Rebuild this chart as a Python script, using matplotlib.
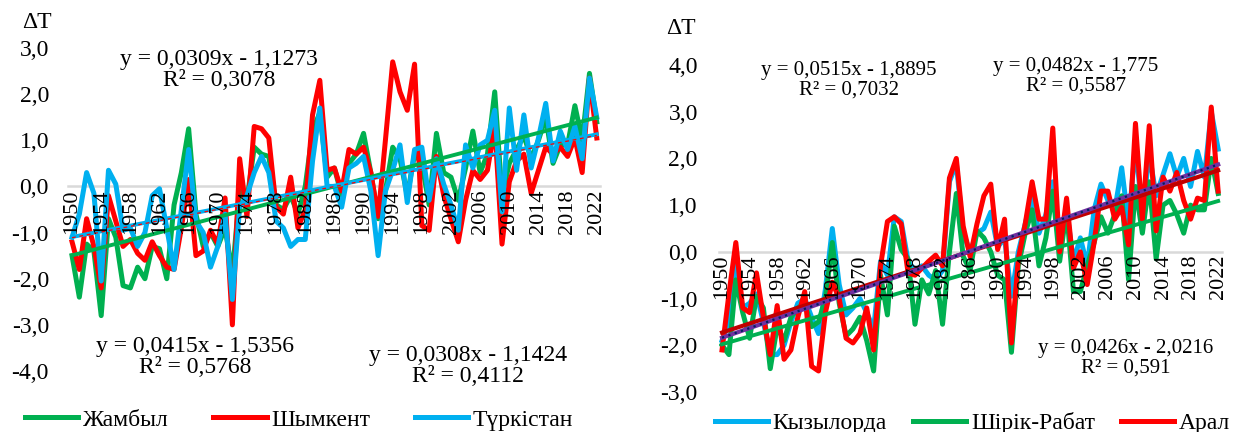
# Аномалии температуры (ΔT) по станциям, 1950-2022
import numpy as np
from matplotlib import pyplot as plt

plt.rcParams['font.family'] = ['Liberation Serif', 'DejaVu Serif']

years = np.arange(1950, 2023)
tick_years = np.arange(1950, 2023, 4)

# левый график
zhambyl = [-1.5, -2.4, -1.25, -1.4, -2.8, -0.7, -1.1, -2.15, -2.2, -1.75,
           -2.0, -1.3, -1.35, -2.0, -0.4, 0.3, 1.25, -0.6, -1.3, -1.0,
           -1.3, -0.9, -1.9, -0.1, -0.3, 0.85, 0.7, 0.65, -0.4, -0.5,
           -0.2, -0.6, 0.0, 1.2, 1.6, 0.2, 0.4, -0.2, 0.5, 0.7,
           1.15, 0.3, -0.7, -0.1, 0.85, 0.6, -0.2, 0.7, 0.5, -0.4,
           1.15, 0.3, 0.2, -0.3, 0.4, 1.2, 0.3, 0.7, 2.05, -0.2,
           0.5, 0.8, 1.1, 0.6, 1.0, 1.5, 0.5, 0.9, 0.9, 1.75,
           1.0, 2.45, 1.4]
shymkent = [-1.2, -1.8, -0.7, -1.3, -2.2, -0.2, -0.75, -1.3, -1.15, -1.45,
            -1.6, -1.2, -1.5, -1.75, -1.8, -0.9, 0.15, -1.5, -1.4, -0.95,
            -1.25, -0.25, -3.0, 0.6, -0.65, 1.3, 1.25, 1.05, -0.45, -0.6,
            0.2, -0.9, -0.5, 1.55, 2.3, 0.35, 0.4, -0.1, 0.8, 0.7,
            0.85, 0.3, -0.65, 1.0, 2.7, 2.05, 1.65, 2.65, -0.85, -0.95,
            0.65, -0.2, -0.7, -1.2, -0.3, 0.35, 0.15, 0.35, 1.3, -1.25,
            0.1, 0.55, 0.7, -0.15, 0.35, 0.85, 0.7, 0.85, 0.65, 1.05,
            0.3, 2.35, 1.05]
turkistan = [-1.1, -0.6, 0.3, -0.15, -2.05, 0.35, 0.05, -0.95, -0.9, -1.3,
             -1.0, -0.2, -0.05, -0.9, -1.8, -0.5, 0.8, -0.75, -1.0, -1.75,
             -1.3, -0.6, -2.45, -0.45, -0.2, 0.3, 0.65, 0.3, -0.75, -0.9,
             -1.3, -1.15, -1.15, 0.55, 1.7, 0.0, 0.0, -0.45, 0.4, 0.5,
             0.65, -0.1, -1.5, -0.1, 0.35, 0.9, -0.35, 0.8, 0.85, -0.3,
             0.6, 0.05, -0.4, -0.95, 0.9, 0.4, 0.9, 1.0, 1.65, -0.55,
             1.7, 0.35, 1.55, 0.4, 1.05, 1.8, 0.55, 1.2, 0.8, 1.3,
             0.6, 2.35, 1.5]
left_names = ['Жамбыл', 'Шымкент', 'Түркістан']

# правый график
kyzylorda = [-1.9, -1.5, -0.3, -1.2, -1.1, -0.9, -1.5, -2.2, -2.2, -2.0,
             -1.5, -1.1, -1.0, -1.4, -1.75, -0.8, 0.5, -0.7, -1.35, -1.2,
             -1.0, -1.3, -1.65, -0.2, -0.5, 0.75, 0.65, -0.2, -0.4, -0.3,
             -0.5, -0.6, -0.4, 1.5, 1.9, 0.4, 0.0, 0.4, 0.5, 0.85,
             0.1, 0.3, -0.95, 0.0, 0.6, 1.2, 0.4, 0.8, 1.5, 0.2,
             0.9, -0.2, 0.3, -0.3, 0.9, 1.45, 1.1, 0.9, 1.8, 0.6,
             2.3, 0.8, 2.1, 1.2, 1.65, 2.1, 1.6, 2.0, 1.4, 2.15,
             1.6, 3.0, 2.2]
shirik = [-2.0, -2.2, -0.6, -1.3, -1.85, -0.95, -1.2, -2.5, -1.6, -1.9,
          -1.4, -1.2, -1.1, -1.6, -1.5, -1.0, 0.2, -1.1, -1.8, -1.65,
          -1.4, -1.9, -2.55, -0.5, -1.35, 0.55, 0.05, -0.15, -1.55, -0.6,
          -0.9, -0.4, -1.55, 0.0, 1.25, -0.1, -0.4, 0.45, 0.3, 0.0,
          -0.5, -0.6, -2.15, -0.3, 0.4, 0.9, -0.3, 0.3, 1.3, -0.2,
          0.9, -0.85, -0.85, -0.3, 0.2, 0.75, 0.4, 0.8, 1.2, -0.6,
          1.4, 0.4, 1.5, -0.15, 1.0, 1.1, 0.8, 0.4, 1.0, 0.9,
          0.9, 2.0, 1.25]
aral = [-2.1, -0.9, 0.2, -1.2, -1.3, -0.45, -1.4, -2.2, -1.15, -2.3,
        -2.1, -1.4, -0.85, -2.45, -2.55, -1.3, -0.65, -1.0, -1.85, -1.95,
        -1.75, -1.2, -2.1, -0.3, 0.65, 0.75, 0.6, -0.45, -0.5, -0.35,
        -0.2, -0.07, -0.3, 1.58, 2.0, 0.55, -0.1, 0.6, 1.2, 1.45,
        0.05, 0.7, -1.95, -0.15, 0.6, 1.5, 0.7, 0.7, 2.65, 0.0,
        1.15, -0.35, 0.0, -0.7, 0.2, 1.3, 1.3, 0.7, 0.95, 0.15,
        2.75, 0.7, 2.7, 0.45, 1.6, 1.3, 1.7, 1.1, 0.7, 1.15,
        1.1, 3.1, 1.3]
right_names = ['Кызылорда', 'Шірік-Рабат', 'Арал']

# линии тренда (коэффициенты из подписей)
left_slopes = [0.0415, 0.0308, 0.0309]
left_icpts = [-1.5356, -1.1424, -1.1273]
left_r2 = [0.5768, 0.4112, 0.3078]
right_slopes = [0.0515, 0.0426, 0.0482]
right_icpts = [-1.8895, -2.0216, -1.775]
right_r2 = [0.7032, 0.591, 0.5587]

GREEN, RED, BLUE = '#00B050', '#FF0000', '#00B0F0'


def eq_text(k, b, r2):
    r2s = f'{r2:.4f}'.rstrip('0').replace('.', ',')
    bs = f'{abs(b):.4f}'.rstrip('0').replace('.', ',')
    ks = f'{k:.4f}'.replace('.', ',')
    return f'y = {ks}x - {bs}\nR² = {r2s}'


def setup(ax, ymin, ymax):
    ax.set_xlim(1949.5, 2022.5)
    ax.set_ylim(ymin, ymax)
    ax.set_yticks(np.arange(ymin, ymax + 1))
    ax.set_yticklabels([f'{v:.1f}'.replace('.', ',') for v in np.arange(ymin, ymax + 1)])
    ax.set_xticks(tick_years)
    ax.set_xticklabels([str(y) for y in tick_years])
    for s in ['top', 'right', 'left']:
        ax.spines[s].set_visible(False)
    ax.spines['bottom'].set_position(('data', 0))
    ax.spines['bottom'].set_color('#D9D9D9')
    ax.spines['bottom'].set_linewidth(1.8)
    ax.spines['bottom'].set_zorder(0.5)
    ax.tick_params(axis='x', length=0, pad=2, labelsize=16, labelrotation=90)
    ax.tick_params(axis='y', length=0, labelsize=17)
    ax.set_axisbelow(False)
    ax.xaxis.set_zorder(10)
    ax.patch.set_visible(False)


fig = plt.figure(figsize=(12.34, 4.32), dpi=100)
x_tr = years - 1949

# ---- левый
ax1 = fig.add_axes([68.4 / 1234, 1 - 371 / 432, 532 / 1234, 323 / 432])
for vals, c in zip([zhambyl, shymkent, turkistan], [GREEN, RED, BLUE]):
    ax1.plot(years, vals, color=c, lw=3.6, solid_joinstyle='round')
ax1.plot(years, left_slopes[0] * x_tr + left_icpts[0], color=GREEN, lw=2.8)
ax1.plot(years, left_slopes[2] * x_tr + left_icpts[2], color=BLUE, lw=2.8)
ax1.plot(years, left_slopes[1] * x_tr + left_icpts[1], color=RED, lw=0.9, ls=(0, (3, 3)))
setup(ax1, -4, 3)
ax1.tick_params(axis='y', pad=14)

fig.text(37 / 1234, 1 - 22 / 432, 'ΔT', fontsize=17, ha='center', va='center')
for (cx, cy), k, b, r2 in zip([(195, 357), (468, 366), (219, 70)], left_slopes, left_icpts, left_r2):
    fig.text(cx / 1234, 1 - cy / 432, eq_text(k, b, r2), fontsize=17, ha='center', va='center',
             multialignment='center', linespacing=1.05)

h1 = [plt.Line2D([], [], color=c, lw=3.6) for c in [GREEN, RED, BLUE]]
fig.legend(h1, left_names, loc='center left', bbox_to_anchor=(25 / 1234, 1 - 420 / 432),
           ncol=3, frameon=False, fontsize=17, handlelength=2.25, handletextpad=0.2,
           columnspacing=1.9, borderpad=0, borderaxespad=0)

# ---- правый
ax2 = fig.add_axes([718.6 / 1234, 1 - 392 / 432, 503 / 1234, 327 / 432])
for vals, c in zip([kyzylorda, shirik, aral], [BLUE, GREEN, RED]):
    ax2.plot(years, vals, color=c, lw=3.6, solid_joinstyle='round')
ax2.plot(years, right_slopes[1] * x_tr + right_icpts[1], color=GREEN, lw=2.8)
ax2.plot(years, right_slopes[2] * x_tr + right_icpts[2], color='#C00000', lw=3.0)
ax2.plot(years, right_slopes[0] * x_tr + right_icpts[0], color='#7030A0', lw=3.0)
ax2.plot(years, right_slopes[0] * x_tr + right_icpts[0], color='#002060', lw=1.6, ls=(0, (1, 2)))
setup(ax2, -3, 4)
ax2.tick_params(axis='y', pad=15)

fig.text(681 / 1234, 1 - 29 / 432, 'ΔT', fontsize=17, ha='center', va='center')
for (cx, cy), k, b, r2 in zip([(849, 80), (1126, 358), (1076, 76)], right_slopes, right_icpts, right_r2):
    fig.text(cx / 1234, 1 - cy / 432, eq_text(k, b, r2), fontsize=15, ha='center', va='center',
             multialignment='center', linespacing=1.05)

h2 = [plt.Line2D([], [], color=c, lw=3.6) for c in [BLUE, GREEN, RED]]
fig.legend(h2, right_names, loc='center left', bbox_to_anchor=(715 / 1234, 1 - 423 / 432),
           ncol=3, frameon=False, fontsize=17, handlelength=2.25, handletextpad=0.2,
           columnspacing=1.1, borderpad=0, borderaxespad=0)

plt.savefig('out.png', dpi=100)
